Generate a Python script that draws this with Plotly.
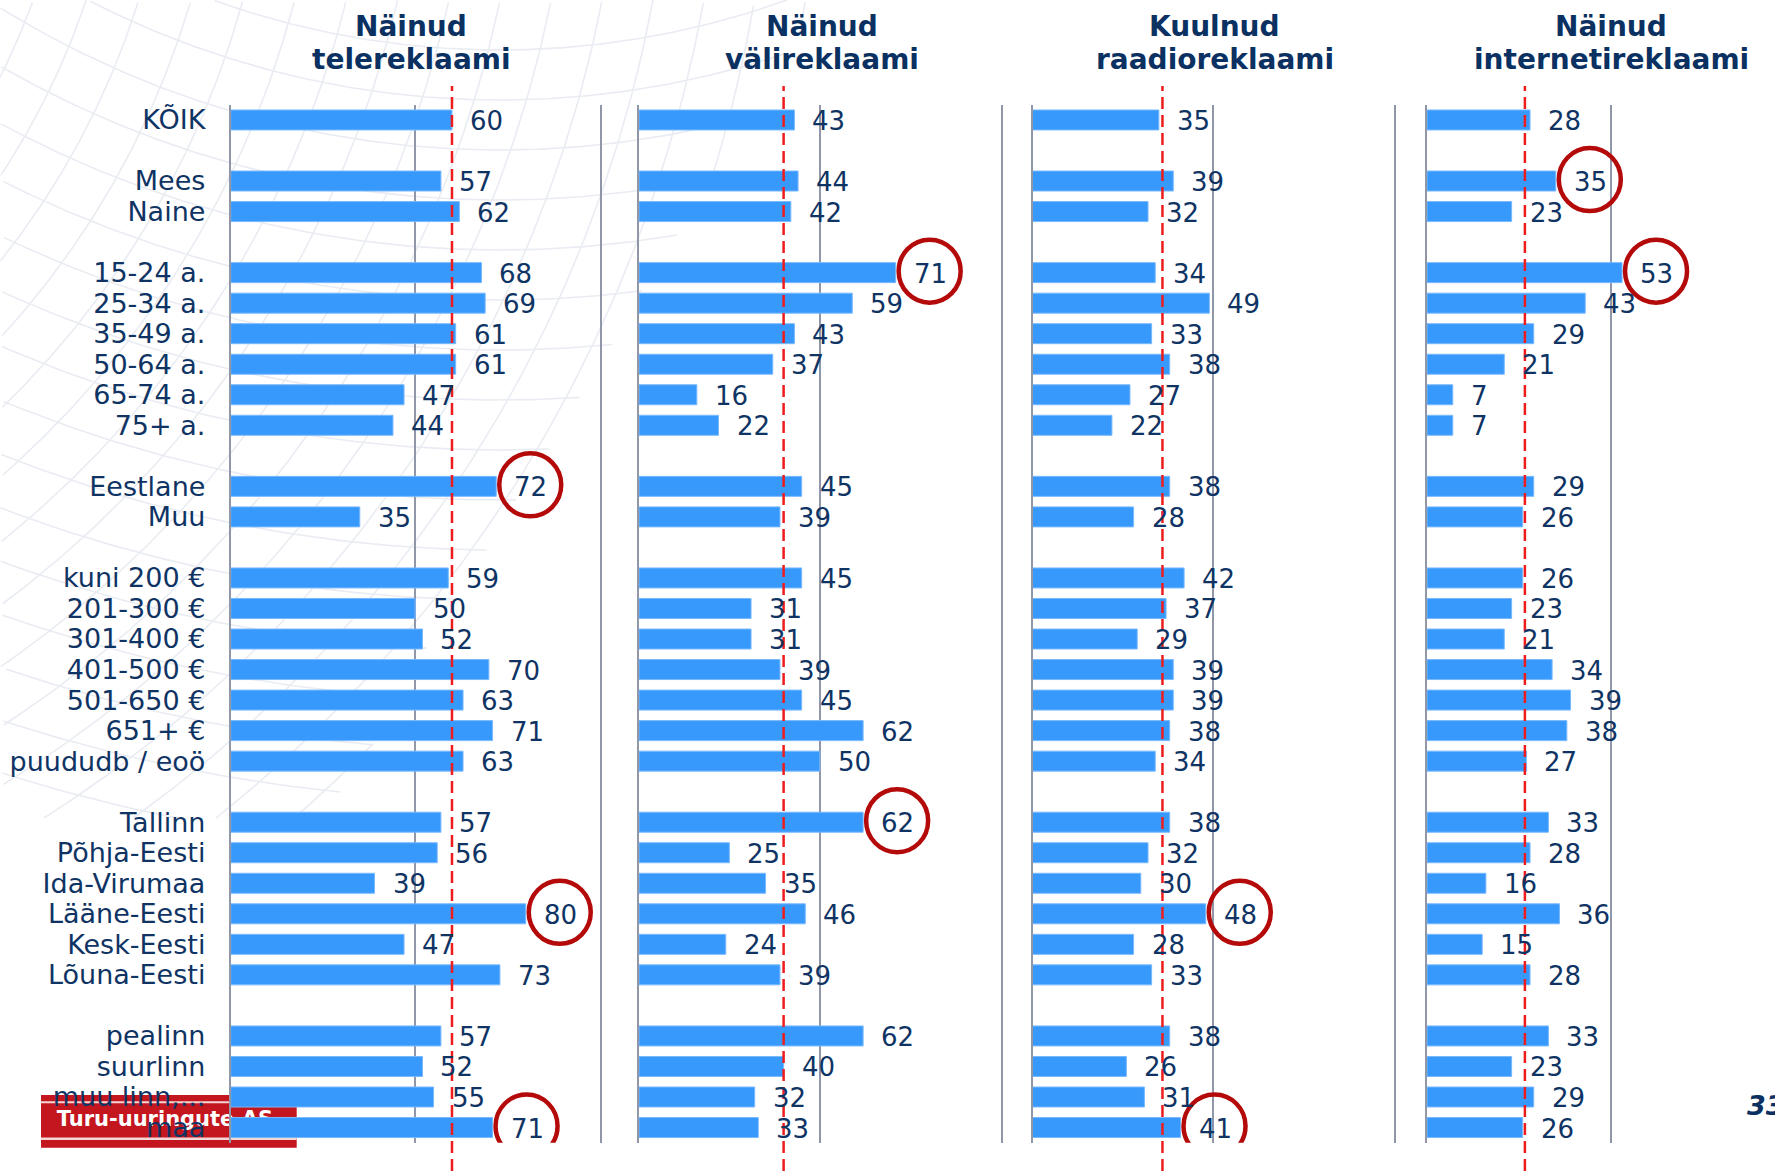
import numpy as np
import plotly.graph_objects as go

# ---- data -------------------------------------------------------------
groups = [
    ["KÕIK"],
    ["Mees", "Naine"],
    ["15-24 a.", "25-34 a.", "35-49 a.", "50-64 a.", "65-74 a.", "75+ a."],
    ["Eestlane", "Muu"],
    ["kuni 200 €", "201-300 €", "301-400 €", "401-500 €", "501-650 €", "651+ €", "puududb / eoö"],
    ["Tallinn", "Põhja-Eesti", "Ida-Virumaa", "Lääne-Eesti", "Kesk-Eesti", "Lõuna-Eesti"],
    ["pealinn", "suurlinn", "muu linn,...", "maa"],
]

tv = [60, 57, 62, 68, 69, 61, 61, 47, 44, 72, 35, 59, 50, 52, 70, 63, 71, 63,
      57, 56, 39, 80, 47, 73, 57, 52, 55, 71]
outdoor = [43, 44, 42, 71, 59, 43, 37, 16, 22, 45, 39, 45, 31, 31, 39, 45, 62, 50,
           62, 25, 35, 46, 24, 39, 62, 40, 32, 33]
radio = [35, 39, 32, 34, 49, 33, 38, 27, 22, 38, 28, 42, 37, 29, 39, 39, 38, 34,
         38, 32, 30, 48, 28, 33, 38, 26, 31, 41]
internet = [28, 35, 23, 53, 43, 29, 21, 7, 7, 29, 26, 26, 23, 21, 34, 39, 38, 27,
            33, 28, 16, 36, 15, 28, 33, 23, 29, 26]

titles_top = ["Näinud", "Näinud", "Kuulnud", "Näinud"]
titles_bottom = ["telereklaami", "välireklaami", "raadioreklaami", "internetireklaami"]

# average reference lines (red dashed)
ref_lines = [60, 40, 36, 26.6]

# values singled out with a red ring
highlights = [
    ["Eestlane", "Lääne-Eesti", "maa"],
    ["15-24 a.", "Tallinn"],
    ["Lääne-Eesti", "maa"],
    ["Mees", "15-24 a."],
]

page_number = "33"
logo_text = "Turu-uuringute AS"

# ---- layout helpers ---------------------------------------------------
W, H = 1775, 1171
NAVY = "#0f3464"
BAR = "#3899fc"
GRID = "#9097a8"
RING = "#b40a0a"
FONT = "DejaVu Sans"

categories = [c for g in groups for c in g]
slots = []
pos = 0
for g in groups:
    for _ in g:
        slots.append(pos)
        pos += 1
    pos += 1
n_slots = slots[-1] + 1

series = [tv, outdoor, radio, internet]
x_domains = [(230.7 / W, 599.5 / W), (639 / W, 1000.5 / W),
             (1032.5 / W, 1393.5 / W), (1427 / W, 1.0)]
x_ranges = [[0, 100], [0, 100], [0, 100], [0, (W - 1427) / 3.68]]
title_x = [49, 50.5, 50.5, 50]
y_domain = [1 - 1142.8 / H, 1 - 104.7 / H]

fig = go.Figure()

# ---- slide background: faint wire-globe texture in the upper-left corner
def arc_family(cx, cy, radii):
    xs, ys = [], []
    t = np.linspace(0, 2 * np.pi, 1400)
    for r in radii:
        px = cx + r * np.cos(t)
        py = cy + r * np.sin(t)
        keep = (px >= 0) & (py >= 0) & (px < 820 - 0.6 * py) & (py < 820)
        px = np.where(keep, px, np.nan)
        py = np.where(keep, py, np.nan)
        xs.extend(px.tolist() + [None])
        ys.extend(py.tolist() + [None])
    return xs, ys

for cx, cy, radii in [(500, -800, range(700, 1700, 50)),
                      (-625, -238, range(450, 1550, 50))]:
    bx, by = arc_family(cx, cy, radii)
    fig.add_trace(go.Scatter(
        x=bx, y=by, mode="lines", line=dict(color="#e9ecf2", width=1.6),
        connectgaps=False, xaxis="x", yaxis="y", hoverinfo="skip",
        showlegend=False))

# Logo text sits on the full-page background subplot, underneath the panels
fig.add_trace(go.Scatter(
    x=[56.7], y=[1121], mode="text", text=[f"<b>{logo_text}</b>"],
    textposition="middle right",
    textfont=dict(family=FONT, size=21, color="white"),
    xaxis="x", yaxis="y", hoverinfo="skip", showlegend=False,
))

annotations = []
shapes = []

# logo block (red band with two white rules)
shapes.append(dict(type="rect", xref="paper", yref="paper", layer="below",
                   x0=41 / W, x1=296.7 / W, y0=1 - 1147.7 / H, y1=1 - 1095 / H,
                   fillcolor="#c3161e", line=dict(width=0)))
for yy, lw in [(1102.3, 2), (1138.7, 2.5)]:
    shapes.append(dict(type="line", xref="paper", yref="paper", layer="below",
                       x0=41 / W, x1=296.7 / W, y0=1 - yy / H, y1=1 - yy / H,
                       line=dict(color="#f4d6d6", width=lw)))

for i, vals in enumerate(series):
    ax = i + 2
    xa, ya = f"x{ax}", f"y{ax}"
    fig.add_trace(go.Bar(
        x=vals, y=slots, orientation="h", width=0.655,
        marker=dict(color=BAR, line=dict(color="#79b9ff", width=1)),
        xaxis=xa, yaxis=ya, hoverinfo="skip", showlegend=False,
    ))

    fig.update_layout({
        f"xaxis{ax}": dict(domain=list(x_domains[i]), range=x_ranges[i],
                           tickvals=[0, 50, 100], showticklabels=False,
                           showgrid=True, gridcolor=GRID, gridwidth=1.8,
                           zeroline=False, showline=False, fixedrange=True,
                           anchor=ya),
        f"yaxis{ax}": dict(domain=y_domain, range=[n_slots - 0.5, -0.5],
                           tickvals=slots, ticktext=categories,
                           showticklabels=(i == 0), ticks="",
                           ticklabelstandoff=18,
                           tickfont=dict(family=FONT, size=27, color=NAVY),
                           showgrid=False, zeroline=False,
                           showline=True, linecolor=GRID, linewidth=1.8,
                           mirror=(i < 3),
                           fixedrange=True, anchor=xa),
    })

    # value labels
    for v, s in zip(vals, slots):
        annotations.append(dict(
            x=v, y=s, xref=xa, yref=ya, text=str(v), showarrow=False,
            xanchor="left", yanchor="middle", xshift=16, yshift=-1,
            font=dict(family=FONT, size=26, color=NAVY)))

    # rings around highlighted values
    for name in highlights[i]:
        k = categories.index(name)
        shapes.append(dict(
            type="circle", xref=xa, yref=ya, layer="above",
            xsizemode="pixel", ysizemode="pixel",
            xanchor=vals[k], yanchor=slots[k],
            x0=34 - 31, x1=34 + 31, y0=-30, y1=33,
            line=dict(color=RING, width=4.5)))

    # average reference line
    shapes.append(dict(type="line", xref=xa, yref="paper", layer="above",
                       x0=ref_lines[i], x1=ref_lines[i],
                       y0=0, y1=1 - 86 / H,
                       line=dict(color="#ee1c1c", width=2.5, dash="12px,6px")))

    # panel titles
    annotations.append(dict(
        x=title_x[i], xref=xa, y=1 - 26.3 / H, yref="paper",
        text=f"<b>{titles_top[i]}</b>",
        showarrow=False, xanchor="center", yanchor="middle",
        font=dict(family=FONT, size=28, color="#0a3161")))
    annotations.append(dict(
        x=title_x[i], xref=xa, y=1 - 59.6 / H, yref="paper",
        text=f"<b>{titles_bottom[i]}</b>",
        showarrow=False, xanchor="center", yanchor="middle",
        font=dict(family=FONT, size=28, color="#0a3161")))

# page number
annotations.append(dict(
    x=1745 / W, y=1 - 1105 / H, xref="paper", yref="paper",
    text=f"<b><i>{page_number}</i></b>", showarrow=False,
    xanchor="left", yanchor="middle",
    font=dict(family=FONT, size=27, color="#0a3161")))

fig.update_layout(
    width=W, height=H, margin=dict(l=0, r=0, t=0, b=0, pad=0),
    paper_bgcolor="white", plot_bgcolor="rgba(0,0,0,0)",
    showlegend=False, bargap=0.3,
    xaxis=dict(domain=[0, 1], range=[0, W], visible=False, fixedrange=True),
    yaxis=dict(domain=[0, 1], range=[H, 0], visible=False, fixedrange=True),
    annotations=annotations, shapes=shapes,
)

fig.write_html("out.html", config={"displayModeBar": False})
